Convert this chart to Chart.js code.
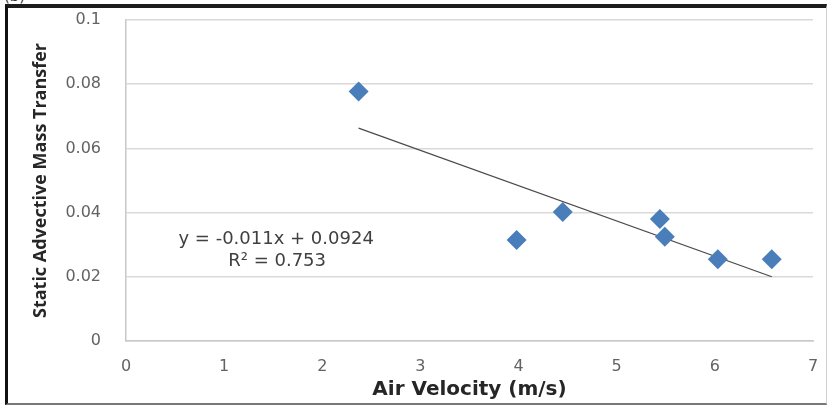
<!DOCTYPE html>
<html lang="en">
<head>
    <meta charset="UTF-8">
    <title>Static Advective Mass Transfer vs Air Velocity</title>
    <script src="https://cdn.jsdelivr.net/npm/chart.js"></script>
    <style>
        html, body {
            margin: 0;
            padding: 0;
            background: #fff;
        }
        .page {
            position: relative;
            width: 828px;
            height: 408px;
            overflow: hidden;
        }
        .frame {
            position: absolute;
            left: 5px;
            top: 4px;
            width: 822px;
            height: 401px;
            box-sizing: border-box;
            border-top: 4px solid #1c1c1c;
            border-left: 3px solid #111;
            border-bottom: 2px solid #777;
            border-right: 1px solid #d0d0d0;
        }
        .tag {
            position: absolute;
            left: 4px;
            top: -13px;
            font: 15px "DejaVu Sans", sans-serif;
            color: #333;
        }
        .chart-box {
            position: absolute;
            left: 0;
            top: 0;
            width: 828px;
            height: 408px;
        }
    </style>
</head>
<body>
    <div class="page">
        <div class="frame"></div>
        <div class="tag">(b)</div>
        <div class="chart-box">
            <canvas id="massChart"></canvas>
        </div>
    </div>

    <script>
        // measured points
        const airVelocity = [2.37, 3.98, 4.45, 5.44, 5.49, 6.03, 6.58];
        const massTransfer = [0.0777, 0.0315, 0.0402, 0.0380, 0.0325, 0.0255, 0.0255];

        // linear trendline as printed on the figure
        const trendSlope = -0.011;
        const trendIntercept = 0.0924;
        const equationLines = ["y = -0.011x + 0.0924", "R\u00b2 = 0.753"];

        const xTicks = [0, 1, 2, 3, 4, 5, 6, 7];
        const yTicks = [0, 0.02, 0.04, 0.06, 0.08, 0.1];

        const xMin = Math.min(...airVelocity);
        const xMax = Math.max(...airVelocity);
        const trendPoints = [
            { x: xMin, y: trendSlope * xMin + trendIntercept },
            { x: xMax, y: trendSlope * xMax + trendIntercept }
        ];

        const equationLabel = {
            id: "equationLabel",
            afterDatasetsDraw(chart) {
                const ctx = chart.ctx;
                const xs = chart.scales.x;
                const ys = chart.scales.y;
                ctx.save();
                ctx.fillStyle = "#404040";
                ctx.font = "18px 'DejaVu Sans', sans-serif";
                ctx.textAlign = "center";
                ctx.textBaseline = "middle";
                ctx.fillText(equationLines[0], xs.getPixelForValue(1.53), ys.getPixelForValue(0.0318));
                ctx.fillText(equationLines[1], xs.getPixelForValue(1.54), ys.getPixelForValue(0.0247));
                ctx.restore();
            }
        };

        const ctx = document.getElementById("massChart").getContext("2d");
        new Chart(ctx, {
            type: "scatter",
            data: {
                datasets: [
                    {
                        label: "Static advective mass transfer",
                        data: airVelocity.map((v, i) => ({ x: v, y: massTransfer[i] })),
                        pointStyle: "rectRot",
                        pointRadius: 10,
                        pointHoverRadius: 10,
                        backgroundColor: "#4a7ebb",
                        borderColor: "#4a7ebb",
                        borderWidth: 0
                    },
                    {
                        label: "Linear trend",
                        type: "line",
                        data: trendPoints,
                        showLine: true,
                        pointRadius: 0,
                        borderColor: "#4a4a4a",
                        borderWidth: 1.2,
                        fill: false
                    }
                ]
            },
            options: {
                responsive: true,
                maintainAspectRatio: false,
                animation: false,
                layout: {
                    padding: { left: 10, right: 15, top: 20, bottom: 8 }
                },
                plugins: {
                    legend: { display: false },
                    tooltip: { enabled: false }
                },
                scales: {
                    x: {
                        type: "linear",
                        min: 0,
                        max: 7,
                        afterBuildTicks: (scale) => { scale.ticks = xTicks.map(v => ({ value: v })); },
                        afterFit: (scale) => {
                            scale.height = 59;
                            scale.paddingLeft = 0;
                            scale.paddingRight = 0;
                        },
                        grid: { display: false, drawTicks: false },
                        border: { display: true, color: "#c8c8c8", width: 1.5 },
                        ticks: {
                            padding: 16,
                            color: "#636363",
                            font: { family: "'DejaVu Sans', sans-serif", size: 16 }
                        },
                        title: {
                            display: true,
                            text: "Air Velocity (m/s)",
                            color: "#262626",
                            padding: { top: 0, bottom: 0 },
                            font: { family: "'DejaVu Sans', sans-serif", size: 20, weight: "bold", lineHeight: 1 }
                        }
                    },
                    y: {
                        type: "linear",
                        min: 0,
                        max: 0.1,
                        afterBuildTicks: (scale) => { scale.ticks = yTicks.map(v => ({ value: v })); },
                        afterFit: (scale) => {
                            scale.width = 116;
                            scale.paddingTop = 0;
                            scale.paddingBottom = 0;
                        },
                        grid: { color: "#d9d9d9", lineWidth: 1.5, drawTicks: false },
                        border: { display: true, color: "#c8c8c8", width: 1.5 },
                        ticks: {
                            padding: 25,
                            color: "#636363",
                            font: { family: "'DejaVu Sans', sans-serif", size: 16 },
                            callback: (v) => String(Number(v.toFixed(2)))
                        },
                        title: {
                            display: true,
                            text: "Static Advective Mass Transfer",
                            color: "#262626",
                            padding: { top: 20, bottom: 0 },
                            font: { family: "'Open Sans', sans-serif", size: 18, weight: "bold", lineHeight: 1.2 }
                        }
                    }
                }
            },
            plugins: [equationLabel]
        });
    </script>
</body>
</html>
